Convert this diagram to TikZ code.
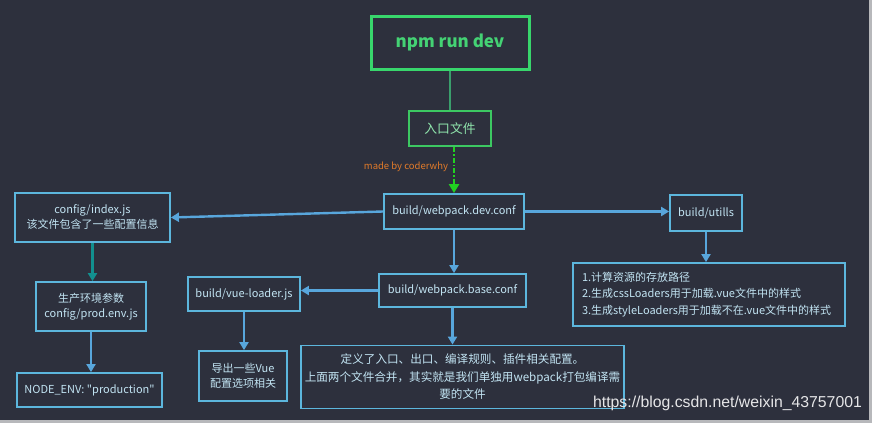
\documentclass[tikz,border=0pt]{standalone}
\usepackage{fontspec}
\setmainfont{Noto Sans CJK SC}
\newfontfamily\nolig{Noto Sans CJK SC}
\newfontfamily\wmfont{Liberation Sans}
\usetikzlibrary{arrows.meta,calc}
\definecolor{bg}{HTML}{2D303D}
\definecolor{boxc}{HTML}{5CB6DD}
\definecolor{arrc}{HTML}{58A6DC}
\definecolor{txtc}{HTML}{C2E4F3}
\definecolor{gbright}{HTML}{38D66C}
\definecolor{gtext}{HTML}{44D274}
\definecolor{gbox}{HTML}{3CC862}
\definecolor{gline}{HTML}{3A9E6C}
\definecolor{gdash}{HTML}{22D022}
\definecolor{orng}{HTML}{E07A2A}
\definecolor{tealc}{HTML}{12908F}
\tikzset{
  bluebox/.style={draw=boxc, line width=1.8pt, text=txtc, align=center, inner sep=0pt,
    font=\fontsize{11}{15}\selectfont},
  arr/.style={draw=arrc, line width=2.4pt, -{Triangle[width=9pt,length=8pt]}},
}
\begin{document}
\begin{tikzpicture}[x=1pt,y=-1pt]
\fill[bg] (0,0) rectangle (872,423);
\fill[black!10!white!75!bg] (869,0) rectangle (872,423);
\fill[black!10!white!75!bg] (0,420) rectangle (872,423);
\useasboundingbox (0,0) rectangle (872,423);

\node[draw=gbright, line width=3pt, minimum width=158pt, minimum height=53pt, inner sep=0pt,
  text=gtext, font=\fontsize{17}{20}\selectfont\bfseries] (npm) at (450,42.5) {npm run dev};
\node[draw=gbox, line width=2pt, minimum width=82pt, minimum height=35pt, inner sep=0pt,
  text=gtext!60!white, font=\fontsize{12.8}{15}\selectfont] (entry) at (450,128.5) {入口文件};

\node[bluebox, minimum width=140pt, minimum height=35pt] (dev) at (454,211.5) {build/webpack.dev.conf};
\node[bluebox, minimum width=155pt, minimum height=49pt] (cfg) at (92.5,217.5) {config/index.js\\该文件包含了一些配置信息};
\node[bluebox, minimum width=72pt, minimum height=36pt] (utl) at (706,213) {build/utills};
\node[bluebox, minimum width=272pt, minimum height=63pt, align=left, text width=254pt,
  font=\fontsize{11}{16.5}\selectfont] (ubox) at (709,294.5) {1.计算资源的存放路径\\2.生成cssLoaders用于加载.vue文件中的样式\\3.生成styleLoaders用于加载不在.vue文件中的样式};
\node[bluebox, minimum width=147pt, minimum height=33pt] (base) at (452.5,290.5) {build/webpack.base.conf};
\node[bluebox, minimum width=112pt, minimum height=34pt] (vue) at (244,294) {build/vue-loader.js};
\node[bluebox, minimum width=88pt, minimum height=50pt] (vexp) at (243,376) {导出一些Vue\\配置选项相关};
\node[bluebox, minimum width=323pt, minimum height=63pt, font=\fontsize{11.6}{17.5}\selectfont] (big) at (462.5,377) {定义了入口、出口、编译规则、插件相关配置。\\上面两个文件合并，其实就是我们单独用webpack打包编译需\\要的文件};
\node[bluebox, minimum width=110pt, minimum height=49pt] (prod) at (91,306.5) {生产环境参数\\config/prod.env.js};
\node[bluebox, minimum width=145pt, minimum height=34pt, font=\nolig\fontsize{11}{15}\selectfont] (nenv) at (89.5,390) {NODE\_ENV: "production"};

\node[text=orng, font=\fontsize{9.5}{11}\selectfont, inner sep=0pt] (made) at (406,166.5) {made by coderwhy};
\node[text=white!88!bg, font=\wmfont\fontsize{15.8}{18}\selectfont, inner sep=0pt] (wm) at (727.5,403) {https://blog.csdn.net/weixin\_43757001};

\draw[gline, line width=2pt] (npm.south) -- (entry.north);
\draw[gdash, line width=2.6pt, dash pattern=on 5pt off 2pt on 1.5pt off 2pt,
  -{Triangle[width=10pt,length=9pt]}] (entry.south -| dev.north) -- (dev.north);

\draw[arr] (dev.west) -- (cfg.east);
\draw[arr] (dev.east) -- (dev.east -| utl.west);
\draw[arr] (utl.south) -- (utl.south |- ubox.north);
\draw[arr] (dev.south) -- (dev.south |- base.north);
\draw[arr] (base.west) -- (base.west -| vue.east);
\draw[arr] (vue.south) -- (vue.south |- vexp.north);
\draw[arr] (base.south) -- (base.south |- big.north);
\draw[arr, draw=tealc] (cfg.south) -- (cfg.south |- prod.north);
\draw[arr] (prod.south) -- (prod.south |- nenv.north);
\end{tikzpicture}
\end{document}
